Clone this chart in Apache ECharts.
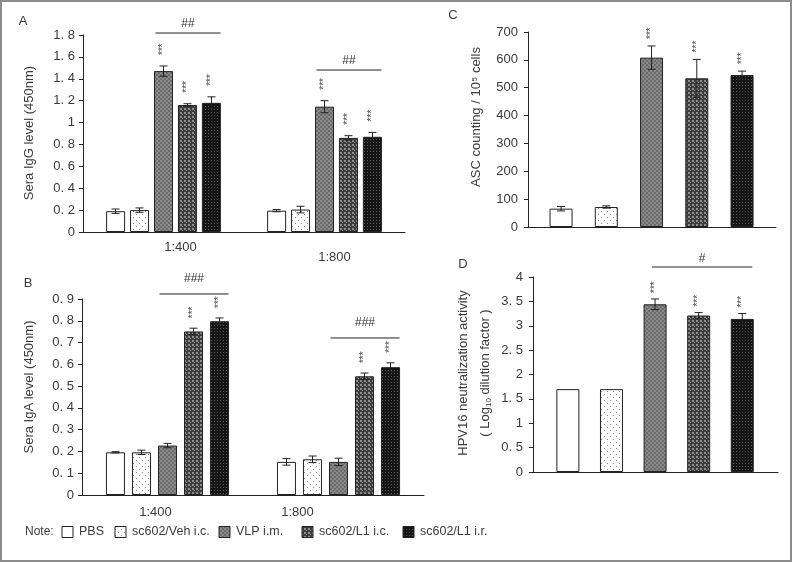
<!DOCTYPE html>
<html><head><meta charset="utf-8">
<script src="https://cdn.jsdelivr.net/npm/echarts@6/dist/echarts.min.js"></script>
<style>html,body{margin:0;padding:0;background:#fff}#c{width:792px;height:562px}</style>
</head><body><div id="c"></div>
<script>
// ---------- data ----------
const groups = ['PBS', 'sc602/Veh i.c.', 'VLP i.m.', 'sc602/L1 i.c.', 'sc602/L1 i.r.'];
const dilutions = ['1:400', '1:800'];

// Panel A: Sera IgG (450nm)  [group][dilution]
const iggMean = [[0.19, 0.195], [0.20, 0.205], [1.47, 1.145], [1.16, 0.86], [1.18, 0.87]];
const iggErr  = [[0.02, 0.01], [0.02, 0.03], [0.047, 0.055], [0.012, 0.02], [0.055, 0.04]];
const iggStars = [[0, 0], [0, 0], [1, 1], [1, 1], [1, 1]];
const iggSig = [[0, 1.818, '##'], [1, 1.48, '##']];

// Panel B: Sera IgA (450nm)
const igaMean = [[0.196, 0.152], [0.196, 0.164], [0.227, 0.152], [0.751, 0.545], [0.798, 0.587]];
const igaErr  = [[0.003, 0.015], [0.01, 0.015], [0.01, 0.017], [0.015, 0.015], [0.015, 0.02]];
const igaStars = [[0, 0], [0, 0], [0, 0], [1, 1], [1, 1]];
const igaSig = [[0, 0.923, '###'], [1, 0.721, '###']];

// Panel C: ASC counting / 10^5 cells
const ascMean = [65.8, 71.8, 607.9, 533.7, 545.6];
const ascErr  = [8, 4, 42, 68, 14];
const ascStars = [0, 0, 1, 1, 1];

// Panel D: HPV16 neutralization (Log10 dilution factor)
const neutMean = [1.7, 1.7, 3.44, 3.21, 3.14];
const neutErr  = [0, 0, 0.11, 0.06, 0.11];
const neutStars = [0, 0, 1, 1, 1];
const neutSig = [4.205, '#'];

// ---------- styles ----------
function pat(w, h, draw) { const c = document.createElement('canvas'); c.width = w; c.height = h; draw(c.getContext('2d')); return c; }
const fills = [
  '#ffffff',
  { image: pat(6, 6, g => { g.fillStyle = '#fff'; g.fillRect(0, 0, 6, 6); g.fillStyle = '#8a8a8a'; g.fillRect(1, 1, 1, 1); g.fillRect(4, 4, 1, 1); }), repeat: 'repeat' },
  { image: pat(4, 4, g => { g.fillStyle = '#6c6c6c'; g.fillRect(0, 0, 4, 4); g.fillStyle = '#8a8a8a'; g.fillRect(0, 0, 2, 2); g.fillRect(2, 2, 2, 2); }), repeat: 'repeat' },
  { image: pat(4, 4, g => { g.fillStyle = '#3e3e3e'; g.fillRect(0, 0, 4, 4); g.fillStyle = '#8c8c8c'; g.fillRect(0, 0, 2, 2); g.fillRect(2, 2, 1, 1); }), repeat: 'repeat' },
  { image: pat(3, 3, g => { g.fillStyle = '#151515'; g.fillRect(0, 0, 3, 3); g.fillStyle = '#5e5e5e'; g.fillRect(1, 1, 1, 1); }), repeat: 'repeat' }
];
const FONT = 'Liberation Sans';
const INK = '#222';
const TXT = '#3a3a3a';

function fmtNum(v) { if (Number.isInteger(v)) return String(v); return v.toFixed(1).replace('.', '. '); }

const grids = [
  { left: 83, top: 35, width: 322, height: 197 },   // A
  { left: 82, top: 299, width: 342, height: 196 },  // B
  { left: 528, top: 32, width: 248, height: 195 },  // C
  { left: 533, top: 277, width: 245, height: 195 }  // D
];

function yAx(gi, max, interval, margin) {
  return {
    type: 'value', gridIndex: gi, min: 0, max: max, interval: interval,
    axisLine: { show: true, lineStyle: { color: INK, width: 1 } },
    axisTick: { show: true, inside: false, length: 4, lineStyle: { color: INK } },
    splitLine: { show: false },
    axisLabel: { formatter: fmtNum, margin: margin, color: TXT, fontFamily: FONT, fontSize: 13 }
  };
}

const xAxes = [
  { type: 'category', gridIndex: 0, data: dilutions, boundaryGap: true,
    axisLine: { lineStyle: { color: INK } }, axisTick: { inside: true, length: 5, lineStyle: { color: INK } },
    axisLabel: { margin: 9, color: TXT, fontFamily: FONT, fontSize: 13,
      formatter: (v, i) => i === 0 ? '{a|' + v + '}' : '{b|' + v + '}',
      rich: { a: { fontFamily: FONT, fontSize: 13, color: TXT, padding: [0, 0, 0, 34] },
              b: { fontFamily: FONT, fontSize: 13, color: TXT, padding: [10, 0, 0, 20] } } } },
  { type: 'category', gridIndex: 1, data: dilutions, boundaryGap: true,
    axisLine: { lineStyle: { color: INK } }, axisTick: { inside: true, length: 5, lineStyle: { color: INK } },
    axisLabel: { margin: 11, color: TXT, fontFamily: FONT, fontSize: 13,
      formatter: (v, i) => i === 0 ? '{a|' + v + '}' : '{b|' + v + '}',
      rich: { a: { fontFamily: FONT, fontSize: 13, color: TXT, padding: [0, 24, 0, 0] },
              b: { fontFamily: FONT, fontSize: 13, color: TXT, padding: [0, 82, 0, 0] } } } },
  { type: 'value', gridIndex: 2, min: 0.27, max: 5.75,
    axisLine: { lineStyle: { color: INK } }, axisTick: { show: false }, axisLabel: { show: false }, splitLine: { show: false } },
  { type: 'value', gridIndex: 3, min: 0.2, max: 5.82,
    axisLine: { lineStyle: { color: INK } }, axisTick: { show: false }, axisLabel: { show: false }, splitLine: { show: false } }
];
const yAxes = [yAx(0, 1.8, 0.2, 8), yAx(1, 0.9, 0.1, 8), yAx(2, 700, 100, 10), yAx(3, 4, 0.5, 10)];

function errGroup(x, yTop, yBot, star, gap) {
  const ls = { stroke: INK, lineWidth: 1 };
  const ch = [];
  if (Math.abs(yBot - yTop) > 0.5) {
    ch.push({ type: 'line', shape: { x1: x, y1: yTop, x2: x, y2: yBot }, style: ls });
    ch.push({ type: 'line', shape: { x1: x - 4, y1: yTop, x2: x + 4, y2: yTop }, style: ls });
    ch.push({ type: 'line', shape: { x1: x - 4, y1: yBot, x2: x + 4, y2: yBot }, style: ls });
  }
  if (star) ch.push({ type: 'text', x: x, y: yTop - gap, rotation: Math.PI / 2,
    style: { text: '***', align: 'left', verticalAlign: 'middle', fontSize: 10, fontFamily: FONT, fill: '#444' } });
  return { type: 'group', children: ch };
}

const series = [];
// grouped panels A & B
[[0, iggMean, iggErr, iggStars, 24, 11, iggSig, 9, '26%'], [1, igaMean, igaErr, igaStars, 26, 10, igaSig, 15, '37%']].forEach(p => {
  const [gi, mean, err, stars, spacing, gap, sig, sigTextGap, barGap] = p;
  groups.forEach((g, k) => {
    series.push({ type: 'bar', name: g, xAxisIndex: gi, yAxisIndex: gi, barWidth: 19, barGap: barGap,
      data: mean[k], itemStyle: { color: fills[k], borderColor: INK, borderWidth: 1 }, z: 2 });
    series.push({ type: 'custom', xAxisIndex: gi, yAxisIndex: gi, z: 5, clip: false,
      data: mean[k].map((v, d) => [d, v, err[k][d], stars[k][d]]),
      renderItem: (params, api) => {
        const c = api.value(0), v = api.value(1), e = api.value(2);
        const t = api.coord([c, v + e]), b = api.coord([c, v - e]);
        return errGroup(t[0] + (k - 2) * spacing, t[1], b[1], api.value(3), gap);
      } });
  });
  series.push({ type: 'custom', xAxisIndex: gi, yAxisIndex: gi, z: 5, clip: false,
    data: sig.map(s => [s[0], s[1]]),
    renderItem: (params, api) => {
      const p0 = api.coord([api.value(0), api.value(1)]);
      const x1 = p0[0] + 0 * spacing - 8, x2 = p0[0] + 2 * spacing + 9;
      return { type: 'group', children: [
        { type: 'line', shape: { x1: x1, y1: p0[1], x2: x2, y2: p0[1] }, style: { stroke: INK, lineWidth: 1 } },
        { type: 'text', x: (x1 + x2) / 2, y: p0[1] - sigTextGap, style: { text: sig[params.dataIndex][2], align: 'center', verticalAlign: 'middle', fontSize: 12, fontFamily: FONT, fill: '#333' } }
      ] };
    } });
});

// single-factor panels C & D
[[2, ascMean, ascErr, ascStars, 7], [3, neutMean, neutErr, neutStars, 6]].forEach(p => {
  const [gi, mean, err, stars, gap] = p;
  series.push({ type: 'bar', xAxisIndex: gi, yAxisIndex: gi, barWidth: 23, z: 2,
    data: mean.map((v, k) => ({ value: [k + 1, v], itemStyle: { color: fills[k], borderColor: INK, borderWidth: 1 } })) });
  series.push({ type: 'custom', xAxisIndex: gi, yAxisIndex: gi, z: 5, clip: false,
    data: mean.map((v, k) => [k + 1, v, err[k], stars[k]]),
    renderItem: (params, api) => {
      const x = api.value(0), v = api.value(1), e = api.value(2);
      const t = api.coord([x, v + e]), b = api.coord([x, v - e]);
      return errGroup(t[0], t[1], b[1], api.value(3), gap);
    } });
});
series.push({ type: 'custom', xAxisIndex: 3, yAxisIndex: 3, z: 5, clip: false,
  data: [[3, neutSig[0]]],
  renderItem: (params, api) => {
    const a = api.coord([3, api.value(1)]), b = api.coord([5, api.value(1)]);
    const x1 = a[0] - 3, x2 = b[0] + 10;
    return { type: 'group', children: [
      { type: 'line', shape: { x1: x1, y1: a[1], x2: x2, y2: a[1] }, style: { stroke: INK, lineWidth: 1 } },
      { type: 'text', x: (x1 + x2) / 2, y: a[1] - 8, style: { text: neutSig[1], align: 'center', verticalAlign: 'middle', fontSize: 12, fontFamily: FONT, fill: '#333' } }
    ] };
  } });

// ---------- graphic texts & legend ----------
function txt(x, y, text, size, rot, extra) {
  return Object.assign({ type: 'text', x: x, y: y, rotation: rot || 0,
    style: { text: text, align: 'center', verticalAlign: 'middle', fontSize: size, fontFamily: FONT, fill: TXT } }, extra || {});
}
const graphics = [
  { type: 'rect', shape: { x: 1, y: 1, width: 790, height: 560 }, style: { fill: 'none', stroke: '#8c8c8c', lineWidth: 2 }, silent: true },
  txt(23, 21, 'A', 13), txt(28, 283, 'B', 13), txt(453, 15, 'C', 13), txt(463, 264, 'D', 13),
  txt(29, 133, 'Sera IgG level (450nm)', 13, Math.PI / 2),
  txt(29, 387, 'Sera IgA level (450nm)', 13, Math.PI / 2),
  txt(476, 117, 'ASC counting / 10⁵ cells', 13, Math.PI / 2),
  txt(463, 373, 'HPV16 neutralization activity', 13, Math.PI / 2),
  { type: 'text', x: 485, y: 373, rotation: Math.PI / 2,
    style: { text: '{a|( Log}{s|10}{a| dilution factor )}', align: 'center', verticalAlign: 'middle', fill: TXT,
      rich: { a: { fontSize: 13, fontFamily: FONT, fill: TXT, lineHeight: 16, verticalAlign: 'middle' },
              s: { fontSize: 8, fontFamily: FONT, fill: TXT, lineHeight: 16, verticalAlign: 'bottom', padding: [6, 0, 0, 0] } } } },
  { type: 'text', x: 25, y: 532, style: { text: 'Note:', align: 'left', verticalAlign: 'middle', fontSize: 12, fontFamily: FONT, fill: TXT } }
];
const legBoxX = [62, 115, 219, 302, 403];
groups.forEach((g, k) => {
  graphics.push({ type: 'rect', shape: { x: legBoxX[k], y: 526.5, width: 11, height: 11 }, style: { fill: fills[k], stroke: INK, lineWidth: 1 } });
  graphics.push({ type: 'text', x: legBoxX[k] + 17, y: 532, style: { text: g, align: 'left', verticalAlign: 'middle', fontSize: 12.5, fontFamily: FONT, fill: TXT } });
});

const chart = echarts.init(document.getElementById('c'), null, { renderer: 'canvas' });
chart.setOption({
  animation: false,
  backgroundColor: '#fff',
  grid: grids,
  xAxis: xAxes,
  yAxis: yAxes,
  series: series,
  graphic: graphics
});
</script>
</body></html>
